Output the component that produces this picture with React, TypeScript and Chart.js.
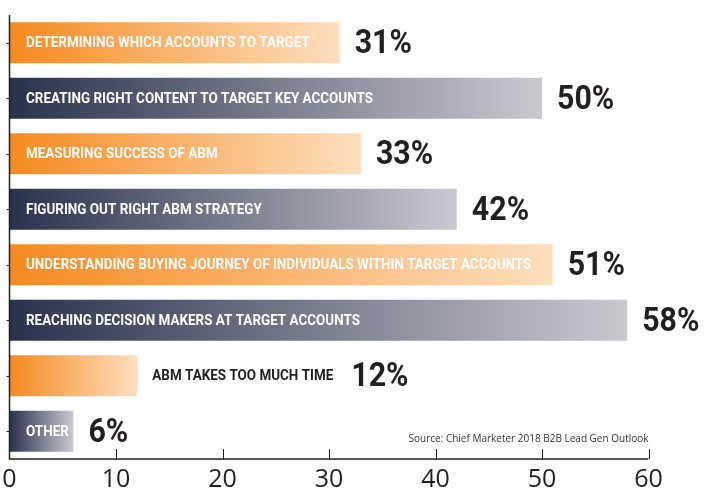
import React, { useEffect, useRef } from "react";
import { Chart, registerables } from "chart.js";

Chart.register(...registerables);

const categories = [
  "DETERMINING WHICH ACCOUNTS TO TARGET",
  "CREATING RIGHT CONTENT TO TARGET KEY ACCOUNTS",
  "MEASURING SUCCESS OF ABM",
  "FIGURING OUT RIGHT ABM STRATEGY",
  "UNDERSTANDING BUYING JOURNEY OF INDIVIDUALS WITHIN TARGET ACCOUNTS",
  "REACHING DECISION MAKERS AT TARGET ACCOUNTS",
  "ABM TAKES TOO MUCH TIME",
  "OTHER",
];
const values = [31, 50, 33, 42, 51, 58, 12, 6];
const valueLabels = ["31%", "50%", "33%", "42%", "51%", "58%", "12%", "6%"];
const colorGroups = ["orange", "navy", "orange", "navy", "orange", "navy", "orange", "navy"];
const xTicks = [0, 10, 20, 30, 40, 50, 60];
const sourceNote = "Source: Chief Marketer 2018 B2B Lead Gen Outlook";

const GRADIENTS: Record<string, [string, string]> = {
  orange: ["#F58A1F", "#FEDFBE"],
  navy: ["#28324B", "#CBC9D0"],
};
const DARK = "#231F20";
const LABEL_FONT = "bold 14px Roboto, 'Liberation Sans', sans-serif";
const LABEL_SCALE = 0.96;
const VALUE_FONT = "bold 33px Roboto, 'Liberation Sans', sans-serif";
const VALUE_SCALE = 0.92;

function drawScaled(ctx: any, text: string, x: number, y: number, sx: number) {
  ctx.save();
  ctx.translate(x, y);
  ctx.scale(sx, 1);
  ctx.fillText(text, 0, 0);
  ctx.restore();
}

const labelsPlugin = {
  id: "barLabels",
  afterDatasetsDraw(chart: any) {
    const ctx = chart.ctx;
    const meta = chart.getDatasetMeta(0);
    ctx.save();
    meta.data.forEach((bar: any, i: number) => {
      const base = bar.base;
      const end = bar.x;
      const y = bar.y;
      ctx.textBaseline = "middle";
      ctx.textAlign = "left";
      ctx.font = LABEL_FONT;
      const tw = ctx.measureText(categories[i]).width * LABEL_SCALE;
      let valueX;
      if (tw + 16 + 4 <= end - base) {
        ctx.fillStyle = "#FFFFFF";
        drawScaled(ctx, categories[i], base + 16, y + 1, LABEL_SCALE);
        valueX = end + 15;
      } else {
        ctx.fillStyle = DARK;
        drawScaled(ctx, categories[i], end + 15, y + 1, LABEL_SCALE);
        valueX = end + 15 + tw + 18;
      }
      ctx.font = VALUE_FONT;
      ctx.fillStyle = DARK;
      drawScaled(ctx, valueLabels[i], valueX, y + 2, VALUE_SCALE);
    });
    ctx.restore();
  },
  afterDraw(chart: any) {
    const ctx = chart.ctx;
    const area = chart.chartArea;
    const xs = chart.scales.x;
    ctx.save();
    ctx.strokeStyle = DARK;
    ctx.lineWidth = 1.5;
    ctx.beginPath();
    ctx.moveTo(area.left, area.top);
    ctx.lineTo(area.left, area.bottom);
    ctx.lineTo(xs.getPixelForValue(xTicks[xTicks.length - 1]), area.bottom);
    ctx.stroke();
    ctx.lineWidth = 1;
    xTicks.slice(1).forEach((t) => {
      const px = Math.round(xs.getPixelForValue(t)) + 0.5;
      ctx.beginPath();
      ctx.moveTo(px, area.bottom);
      ctx.lineTo(px, area.bottom - 10);
      ctx.stroke();
    });
    const meta = chart.getDatasetMeta(0);
    meta.data.forEach((bar: any) => {
      ctx.beginPath();
      ctx.moveTo(area.left - 3, Math.round(bar.y) + 0.5);
      ctx.lineTo(area.left, Math.round(bar.y) + 0.5);
      ctx.stroke();
    });
    ctx.font = "10px 'Open Sans', 'Liberation Sans', sans-serif";
    ctx.fillStyle = "#333333";
    ctx.textAlign = "right";
    ctx.textBaseline = "middle";
    ctx.fillText(sourceNote, xs.getPixelForValue(xTicks[xTicks.length - 1]), 439);
    ctx.restore();
  },
};

export default function App() {
  const ref = useRef<HTMLCanvasElement>(null);
  useEffect(() => {
    if (!ref.current) return;
    const chart = new Chart(ref.current, {
      type: "bar",
      data: {
        labels: categories,
        datasets: [
          {
            data: values,
            barPercentage: 0.74,
            categoryPercentage: 1,
            backgroundColor: (c: any) => {
              const chart = c.chart;
              const pair = GRADIENTS[colorGroups[c.dataIndex] || "orange"];
              if (!chart.chartArea || !chart.scales.x || c.dataIndex === undefined) return pair[0];
              const xs = chart.scales.x;
              const x0 = xs.getPixelForValue(0);
              const x1 = xs.getPixelForValue(values[c.dataIndex]);
              const g = chart.ctx.createLinearGradient(x0, 0, x1, 0);
              g.addColorStop(0, pair[0]);
              g.addColorStop(1, pair[1]);
              return g;
            },
          },
        ],
      },
      options: {
        indexAxis: "y",
        responsive: false,
        animation: false,
        devicePixelRatio: 1,
        layout: { padding: { left: 9.5, right: 63.5, top: 15, bottom: 0 } },
        plugins: { legend: { display: false }, tooltip: { enabled: false }, title: { display: false } },
        scales: {
          x: {
            min: 0,
            max: 60,
            ticks: {
              stepSize: 10,
              color: DARK,
              padding: 0,
              font: { family: "'Open Sans', 'Liberation Sans', sans-serif", size: 25, lineHeight: 1 },
            },
            grid: { display: true, drawOnChartArea: false, drawTicks: true, tickLength: 8, tickColor: "rgba(0,0,0,0)" },
            border: { display: false },
          },
          y: { display: false },
        },
      },
      plugins: [labelsPlugin],
    } as any);
    return () => chart.destroy();
  }, []);
  return (
    <div style={{ position: "fixed", left: 0, top: 0, width: 712, height: 492, background: "#fff" }}>
      <canvas ref={ref} width={712} height={492} />
    </div>
  );
}
